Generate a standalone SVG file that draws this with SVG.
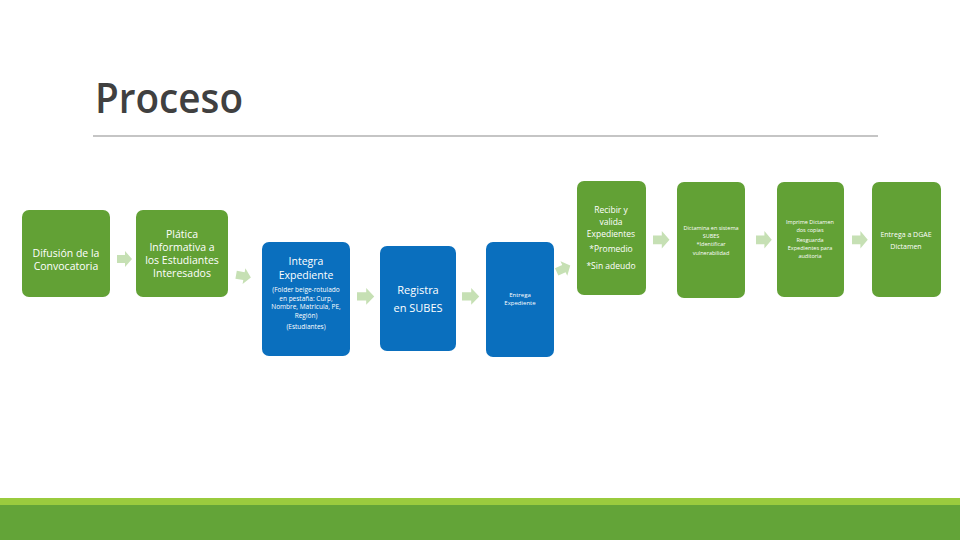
<svg xmlns="http://www.w3.org/2000/svg" width="960" height="540" viewBox="0 0 960 540">
<style>
.g{fill:#62a135}
.b{fill:#0a6fbe}
.ar{fill:#c6e0b4}
text{font-family:"Open Sans","Liberation Sans",sans-serif;fill:#fff;text-anchor:middle}
</style>
<defs>
<path id="arr" d="M0,4 H8 V0 L15,8 L8,16 V12 H0 Z"/>
</defs>
<rect width="960" height="540" fill="#fff"/>
<text x="95" y="113" style="font-family:'Open Sans','Liberation Sans',sans-serif;font-size:42px;font-weight:600;fill:#404040;text-anchor:start" textLength="148" lengthAdjust="spacingAndGlyphs">Proceso</text>
<line x1="93" y1="136" x2="878" y2="136" stroke="#8c8c8c" stroke-width="1.2"/>
<rect x="0" y="498" width="960" height="7" fill="#9acb3e"/>
<rect x="0" y="505" width="960" height="35" fill="#63a438"/>

<g id="connectors">
<use href="#arr" class="ar" x="117" y="251"/>
<use href="#arr" class="ar" transform="translate(236,268) rotate(10 7 8)"/>
<use href="#arr" class="ar" transform="translate(357,288) scale(1.15 1.05)"/>
<use href="#arr" class="ar" transform="translate(462,288) scale(1.15 1.05)"/>
<use href="#arr" class="ar" transform="translate(556,261) rotate(-25 7 8)"/>
<use href="#arr" class="ar" transform="translate(653,231) scale(1.1 1.1)"/>
<use href="#arr" class="ar" transform="translate(756,231) scale(1.05 1.1)"/>
<use href="#arr" class="ar" transform="translate(852,231) scale(1.05 1.1)"/>
</g>

<g id="n1">
<rect class="g" x="22" y="210" width="88" height="87" rx="7"/>
<text font-size="10.5"><tspan x="66" y="257">Difusión de la</tspan><tspan x="66" y="270">Convocatoria</tspan></text>
</g>
<g id="n2">
<rect class="g" x="136" y="210" width="92" height="87" rx="7"/>
<text font-size="10.5"><tspan x="182" y="238">Plática</tspan><tspan x="182" y="251">Informativa a</tspan><tspan x="182" y="264">los Estudiantes</tspan><tspan x="182" y="277">Interesados</tspan></text>
</g>
<g id="n3">
<rect class="b" x="262" y="242" width="88" height="114" rx="7"/>
<text font-size="10.5"><tspan x="306" y="265">Integra</tspan><tspan x="306" y="279">Expediente</tspan></text>
<text font-size="6.5"><tspan x="306" y="292">(Folder beige-rotulado</tspan><tspan x="306" y="300.5">en pestaña: Curp,</tspan><tspan x="306" y="309">Nombre, Matricula, PE,</tspan><tspan x="306" y="317.5">Región)</tspan><tspan x="306" y="329">(Estudiantes)</tspan></text>
</g>
<g id="n4">
<rect class="b" x="380" y="246" width="76" height="105" rx="7"/>
<text font-size="11"><tspan x="418" y="294">Registra</tspan><tspan x="418" y="312">en SUBES</tspan></text>
</g>
<g id="n5">
<rect class="b" x="486" y="242" width="68" height="115" rx="7"/>
<text font-size="6"><tspan x="520" y="297">Entrega</tspan><tspan x="520" y="305">Expediente</tspan></text>
</g>
<g id="n6">
<rect class="g" x="577" y="181" width="69" height="114" rx="7"/>
<text font-size="8.5"><tspan x="611" y="213">Recibir y</tspan><tspan x="611" y="225">valida</tspan><tspan x="611" y="237">Expedientes</tspan><tspan x="611" y="252">*Promedio</tspan><tspan x="611" y="269">*Sin adeudo</tspan></text>
</g>
<g id="n7">
<rect class="g" x="677" y="182" width="68" height="116" rx="7"/>
<text font-size="5.5"><tspan x="711" y="230">Dictamina en sistema</tspan><tspan x="711" y="237.5">SUBES</tspan><tspan x="711" y="246">*Identificar</tspan><tspan x="711" y="255">vulnerabilidad</tspan></text>
</g>
<g id="n8">
<rect class="g" x="777" y="182" width="67" height="115" rx="7"/>
<text font-size="5.5"><tspan x="810" y="224">Imprime Dictamen</tspan><tspan x="810" y="232">dos copias</tspan><tspan x="810" y="242">Resguarda</tspan><tspan x="810" y="250">Expedientes para</tspan><tspan x="810" y="258">auditoria</tspan></text>
</g>
<g id="n9">
<rect class="g" x="872" y="182" width="69" height="115" rx="7"/>
<text font-size="7"><tspan x="906" y="237">Entrega a DGAE</tspan><tspan x="906" y="249">Dictamen</tspan></text>
</g>
</svg>
